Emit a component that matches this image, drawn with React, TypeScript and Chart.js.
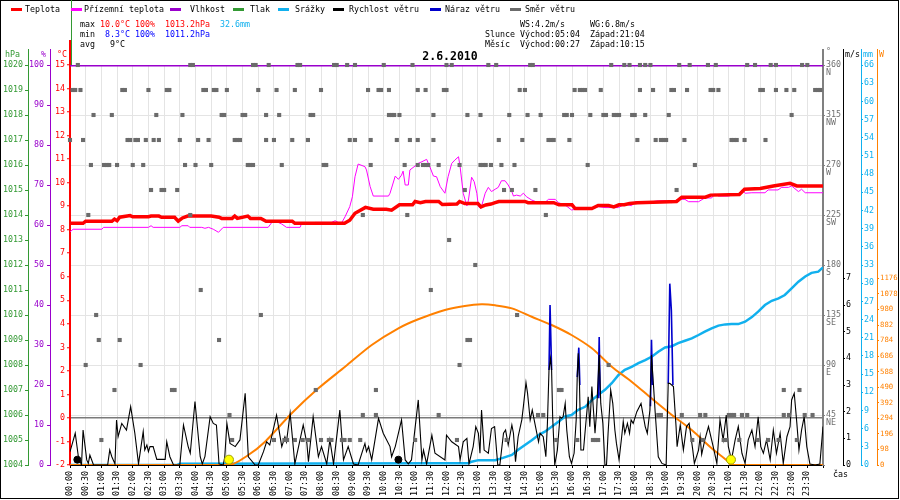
import React, { useEffect, useRef } from "react";
import { Chart, registerables } from "chart.js";

Chart.register(...registerables);

const FONT = "'DejaVu Sans Mono', 'Liberation Mono', monospace";
const FS = 8.3;

const COL = {
  temp: "#ff0000",
  ground: "#ff00ff",
  hum: "#9900cc",
  press: "#339933",
  rain: "#11b0ee",
  wind: "#000000",
  gust: "#0000cc",
  dir: "#6b6b6b",
  solar: "#ff8000",
  grid: "#e4e4e4",
};

// ---- data (time = minutes since midnight) ----
const tempTimes = [0,25,30,80,85,90,95,115,120,150,155,170,175,200,207,215,225,270,285,290,310,315,320,340,345,365,375,425,430,525,535,545,565,580,605,615,630,655,660,670,680,705,712,740,745,755,780,786,795,805,813,820,870,876,925,935,960,966,998,1010,1030,1040,1050,1060,1070,1085,1160,1170,1215,1225,1280,1290,1320,1345,1377,1390,1440];
const tempValues = [8.27,8.27,8.36,8.36,8.45,8.38,8.53,8.6,8.55,8.55,8.58,8.58,8.53,8.53,8.36,8.5,8.58,8.58,8.53,8.48,8.48,8.58,8.48,8.58,8.48,8.48,8.36,8.36,8.27,8.27,8.4,8.7,8.95,8.87,8.87,8.83,9.06,9.06,9.2,9.15,9.2,9.2,9.07,9.09,9.2,9.11,9.11,8.97,9.05,9.09,9.15,9.2,9.2,9.15,9.15,9.06,9.06,8.9,8.9,9.03,9.03,8.97,9.06,9.06,9.11,9.15,9.2,9.38,9.38,9.47,9.5,9.72,9.75,9.86,9.97,9.86,9.86];

const groundTimes = [0,6,61,64,150,155,159,210,214,226,229,252,258,265,274,284,293,379,386,398,405,414,440,443,462,469,500,507,513,520,526,535,540,545,551,564,567,574,580,609,612,622,628,634,637,641,647,650,660,666,673,682,688,695,701,708,717,723,730,736,743,746,752,759,762,768,773,778,781,786,794,800,806,813,819,825,832,838,845,848,854,861,867,873,883,896,908,915,928,934,947,959,972,998,1010,1023,1049,1061,1074,1081,1113,1125,1138,1150,1163,1176,1183,1202,1214,1227,1233,1240,1259,1272,1278,1285,1291,1304,1329,1335,1354,1361,1374,1380,1393,1399,1406,1440];
const groundValues = [7.91,8.02,8.02,8.10,8.10,8.17,8.10,8.10,8.17,8.17,8.10,8.10,8.06,8.10,8.02,7.89,8.10,8.10,8.31,8.31,8.24,8.10,8.10,8.27,8.27,8.31,8.31,8.38,8.31,8.31,8.55,8.98,9.40,10.25,10.79,10.68,10.54,9.83,9.43,9.43,9.55,10.28,10.14,10.32,10.49,9.90,9.90,10.54,10.71,10.82,10.89,10.99,10.68,10.28,10.25,9.83,9.55,10.25,10.82,10.96,11.1,10.68,9.55,9.01,9.26,10.23,10.04,9.55,8.98,8.91,9.55,9.8,9.62,9.72,9.8,10.08,10.08,9.9,9.62,9.43,9.47,9.43,9.55,9.4,9.26,9.15,9.15,9.29,9.29,9.15,9.05,8.84,8.88,8.88,8.98,8.94,8.94,9.09,9.02,9.19,9.19,9.23,9.23,9.15,9.29,9.29,9.19,9.19,9.35,9.35,9.52,9.43,9.43,9.5,9.5,9.69,9.55,9.57,9.57,9.69,9.69,9.8,9.8,9.86,9.62,9.72,9.57,9.57];

const humTimes = [0, 1440];
const humValues = [100, 100];

const rainTimes = [0,205,210,717,762,768,781,813,825,845,857,870,883,896,908,921,934,947,959,972,985,998,1010,1023,1036,1049,1061,1074,1087,1100,1113,1125,1138,1151,1163,1176,1189,1202,1214,1227,1240,1253,1265,1278,1291,1304,1316,1329,1342,1355,1367,1380,1393,1406,1418,1431,1440];
const rainValues = [0,0,0.2,0.28,0.28,0.55,0.8,0.8,1.1,1.65,2.5,3.3,4.1,4.95,5.5,6.3,7.15,8.0,8.25,9.1,9.6,10.7,11.55,12.4,13.5,14.85,15.7,16.2,16.8,17.3,17.9,18.7,19.4,19.6,20.1,20.5,20.9,21.45,22.0,22.55,23.0,23.2,23.25,23.25,23.65,24.4,25.3,26.4,27.1,27.5,28.05,29.15,30.25,31.1,31.7,31.9,32.6];

const solarTimes = [0,304,341,373,424,475,526,577,628,666,717,755,787,813,845,883,921,959,998,1036,1074,1112,1151,1189,1227,1259,1264,1440];
const solarValues = [0,0,63,147,326,483,619,756,861,918,977,1002,1012,1006,987,934,882,819,735,619,525,420,315,220,105,21,0,0];

const windTimes = [0,10,16,22,25,32,35,38,45,72,76,80,86,89,92,99,108,116,124,131,140,143,147,150,153,159,166,182,185,191,198,210,217,226,230,239,249,253,258,268,274,280,285,293,296,300,306,316,325,335,341,354,360,370,376,382,395,405,411,414,421,430,446,453,456,465,475,481,491,497,504,516,523,532,542,551,564,567,571,577,590,599,612,615,622,634,641,647,653,666,673,676,682,692,698,717,
  720,730,743,746,752,759,763,771,776,781,784,787,792,800,806,812,818,822,829,833,838,845,848,852,857,864,867,872,875,880,884,889,896,
  899,905,910,913,916,919,921,923,927,932,937,940,943,947,950,955,959,964,968,970,972,974,977,982,987,991,994,998,1001,1004,1007,1012,1015,1019,1023,1026,1029,1034,1038,1042,1045,1050,1055,1058,1061,1066,1070,1073,1077,1084,1092,1100,1104,1109,1112,1116,1119,1125,1132,1140,1144,1147,1154,1159,1161,1167,1173,1179,1184,1191,1194,1202,1205,1208,1214,1221,
  1230,1237,1243,1249,1255,1259,1265,1272,1278,1285,1291,1297,1304,1310,1316,1321,1326,1332,1339,1345,1351,1358,1364,1371,1377,1380,1385,1390,1394,1399,1404,1409,1415,1425,1434,1440];
const windSpeeds = [0.5,1.19,0.31,0,1.31,0.19,0.06,0.37,0,0,0.56,0.31,0.04,1.69,1.06,1.56,1.31,2.19,1.19,0.04,1.25,0.56,0.75,0.5,0.69,0.69,0.21,0.21,0.87,0.31,0,0,1.5,0.69,0.44,2.38,0.31,0.04,0.31,1.81,1.56,1.5,0.04,0,0.31,1.56,0.81,0.69,0.94,2.69,0.31,0,0,0.5,0.87,0.75,1.87,0.69,1.06,0.87,1.94,0.04,1.5,0.81,0.12,1.81,0.31,0.69,0.04,0.94,0.04,2.06,0.19,0.69,0.04,0,0.81,0.5,0.69,0.19,1.75,1.19,0.69,0.31,0.69,1.69,0.19,0.04,0.19,2.44,0.19,0.56,0.04,1.12,0.44,0.19,
  1.12,0.87,0.69,0.19,0.87,1.0,0.04,0.69,1.44,1.19,0.44,2.06,0.56,0.44,1.37,1.44,0,0,1.19,1.31,0.75,1.5,1.19,0.12,1.06,1.69,2.19,3.09,2.69,1.69,2.06,1.56,0.87,
  1.19,1.06,0.31,1.56,3.56,4.0,3.56,1.81,0,0.56,1.81,1.75,1.81,2.31,1.31,0.31,0.06,0.44,1.69,3.31,4.19,3.31,0.56,0.56,1.69,2.56,1.44,2.94,2.06,1.19,2.0,4.12,2.31,1.56,0,0,1.19,2.81,2.31,1.31,0.81,0.19,1.06,1.63,1.19,1.56,1.19,1.69,1.56,2.0,2.31,1.44,1.19,2.06,4.12,2.94,2.0,0.31,0.06,0,3.06,3.06,2.94,1.44,0.69,1.5,0.56,1.44,1.56,0.56,0.06,0.56,1.06,0.4,0.94,1.44,
  0.69,0.06,1.69,0.94,1.87,0.69,0.19,0.94,1.44,0.44,0.06,0.94,1.31,0.69,1.81,0.69,0.44,0.94,0.19,1.31,0.44,1.19,0.06,1.06,1.44,2.44,2.69,1.56,0.56,1.31,1.81,0.69,0.04,0,0.04,1.44];

const gustTimes = [916,918,921,945,970,973,975,990,1010,1012,1014,1060,1110,1112,1114,1130,1144,1147,1150,1153];
const gustValues = [3.56,6.0,3.56,null,3.3,4.4,3.0,null,2.5,4.8,2.5,null,2.2,4.7,3.0,null,3.06,6.8,5.8,3.0];

// wind direction observations, grouped by 16-point sector
const dir360 = [15,230,235,350,355,380,435,440,505,510,530,545,600,655,720,730,800,815,880,885,1035,1060,1070,1090,1100,1110,1165,1185,1220,1235,1295,1310,1340,1350,1400,1410];
const dir337 = [5,10,20,100,105,150,185,190,255,260,275,280,300,360,395,430,480,570,590,595,610,665,680,715,720,860,870,965,975,980,985,1015,1090,1115,1150,1155,1180,1225,1230,1240,1320,1325,1350,1370,1385,1425,1430,1435];
const dir315 = [45,80,165,215,290,295,330,335,375,400,460,465,610,615,620,630,695,760,785,840,875,900,945,950,960,995,1020,1025,1040,1045,1050,1075,1080,1100,1145,1380];
const dir292 = [0,25,110,115,125,130,145,160,170,210,245,265,315,320,325,375,390,425,455,535,545,575,625,650,665,695,820,865,915,920,925,955,1085,1120,1130,1135,1140,1175,1265,1270,1275,1290,1330];
const dir270 = [40,65,70,75,90,120,140,220,240,270,340,345,350,405,485,490,575,640,665,675,680,685,705,745,785,790,795,805,825,850,990,1195];
const dir247 = [155,175,180,205,755,830,845,890,1160];
const dir225 = [35,230,560,645,910];
const dir202 = [725];
const dir180 = [775];
const dir157 = [250,690];
const dir135 = [50,365,855];
const dir112 = [55,95,285,760,765];
const dir90 = [30,135,745,1030];
const dir67 = [85,195,200,470,585,935,940,1365,1395];
const dir45 = [305,560,585,705,895,905,1125,1130,1170,1205,1215,1260,1265,1270,1285,1295,1365,1375,1405,1420];
const dir22 = [60,310,390,410,415,430,445,455,480,495,500,520,525,535,555,660,740,835,930,970,1000,1005,1010,1190,1210,1250,1255,1280,1315,1335,1355,1390];
const directionRows: [number, number[]][] = [
  [360, dir360], [337.5, dir337], [315, dir315], [292.5, dir292], [270, dir270],
  [247.5, dir247], [225, dir225], [202.5, dir202], [180, dir180], [157.5, dir157],
  [135, dir135], [112.5, dir112], [90, dir90], [67.5, dir67], [45, dir45], [22.5, dir22],
];

const sunTimes = [304, 1264];
const moonTimes = [14, 628];
const markerLevel = 0.2; // m/s

const dirNames: Record<number, string> = { 45: "NE", 90: "E", 135: "SE", 180: "S", 225: "SW", 270: "W", 315: "NW", 360: "N" };
const windTickMax = 7;
const solarTickMax = 1176;

const legendItems: [string, string, number, number][] = [
  [COL.temp, "Teplota", 11, 25],
  [COL.ground, "Přízemní teplota", 71, 84],
  [COL.hum, "Vlhkost", 170, 190],
  [COL.press, "Tlak", 233, 250],
  [COL.rain, "Srážky", 278, 295],
  [COL.wind, "Rychlost větru", 333, 349],
  [COL.gust, "Náraz větru", 430, 445],
  [COL.dir, "Směr větru", 510, 525],
];

const statTexts: [string, string, number, number][] = [
  ["max", "#000", 80, 24.5], ["10.0°C", "#ff0000", 100, 24.5], ["100%", "#ff0000", 135, 24.5], ["1013.2hPa", "#ff0000", 165, 24.5], ["32.6mm", COL.rain, 220, 24.5],
  ["min", "#000", 80, 34.5], ["8.3°C", "#0000ff", 105, 34.5], ["100%", "#0000ff", 135, 34.5], ["1011.2hPa", "#0000ff", 165, 34.5],
  ["avg", "#000", 80, 44.5], ["9°C", "#000", 110, 44.5],
  ["WS:4.2m/s", "#000", 520, 24.5], ["WG:6.8m/s", "#000", 590, 24.5],
  ["Slunce Východ:05:04  Západ:21:04", "#000", 485, 34.5],
  ["Měsíc  Východ:00:27  Západ:10:15", "#000", 485, 44.5],
  ["hPa", COL.press, 5, 54.5], ["%", COL.hum, 41, 54.5], ["°C", COL.temp, 57, 54.5],
  ["°", COL.dir, 826, 52], ["m/s", "#000", 845, 54.5], ["mm", COL.rain, 863, 54.5], ["W", COL.solar, 879, 54.5],
  ["čas", "#000", 833, 475],
];

function pts(times: number[], vals: (number | null)[]) {
  const n = Math.min(times.length, vals.length);
  const out: { x: number; y: number | null }[] = [];
  for (let i = 0; i < n; i++) out.push({ x: times[i], y: vals[i] });
  return out;
}

const pad2 = (n: number) => (n < 10 ? "0" + n : "" + n);
const plain = (v: any) => String(Math.round(Number(v) * 100) / 100);
const tickFont = { family: FONT, size: FS, lineHeight: 1 };
const smallFont = { family: FONT, size: 7.3, lineHeight: 1 };
const align = (x: number, w: number) => Math.round(x - w / 2) + w / 2;

const decorPlugin = {
  id: "decor",
  afterDraw(chart: any) {
    const { ctx, chartArea, scales } = chart;
    ctx.save();
    // frame
    ctx.strokeStyle = "#000";
    ctx.lineWidth = 1;
    ctx.strokeRect(0.5, 0.5, 898, 498);

    // axis line extensions above plot
    const ext = (x: number, color: string, w: number, y0: number) => {
      ctx.strokeStyle = color;
      ctx.lineWidth = w;
      ctx.beginPath();
      ctx.moveTo(align(x, w), y0);
      ctx.lineTo(align(x, w), chartArea.top);
      ctx.stroke();
    };
    ext(chartArea.left + 1.5, COL.press, 1, 0);
    ext(scales.yP.right, COL.press, 1, 49);
    ext(scales.yH.right, COL.hum, 1, 49);
    ext(scales.yT.right, COL.temp, 2, 40);
    ext(scales.yD.left, "#808080", 2, 49);
    ext(scales.yW.left, "#000", 1, 49);
    ext(scales.yR.left, COL.rain, 1, 49);
    ext(scales.yS.left, COL.solar, 1, 49);

    ctx.font = `${FS}px ${FONT}`;
    ctx.textBaseline = "middle";
    ctx.textAlign = "left";
    for (const [color, label, lx, tx] of legendItems) {
      ctx.strokeStyle = color;
      ctx.lineWidth = 3;
      ctx.beginPath();
      ctx.moveTo(lx, 9.5);
      ctx.lineTo(lx + 11, 9.5);
      ctx.stroke();
      ctx.fillStyle = "#000";
      ctx.fillText(label, tx, 9.5);
    }
    for (const [text, color, x, y] of statTexts) {
      ctx.fillStyle = color;
      ctx.fillText(text, x, y);
    }
    ctx.font = `bold 11.5px ${FONT}`;
    ctx.textAlign = "center";
    ctx.fillStyle = "#000";
    ctx.fillText("2.6.2010", 450, 57.5);
    ctx.restore();
  },
};

export default function App() {
  const ref = useRef<HTMLCanvasElement | null>(null);

  useEffect(() => {
    document.body.style.margin = "0";
    const canvas = ref.current;
    if (!canvas) return;

    const dirPoints = directionRows.flatMap(([deg, times]) => times.map((t) => ({ x: t, y: deg })));

    const lineDs = (label: string, data: any, axis: string, color: string, width: number, order: number, extra: any = {}) => ({
      label,
      data,
      yAxisID: axis,
      borderColor: color,
      backgroundColor: color,
      borderWidth: width,
      pointRadius: 0,
      tension: 0,
      fill: false,
      order,
      ...extra,
    });

    const chart = new Chart(canvas, {
      type: "line",
      data: {
        datasets: [
          {
            label: "Slunce",
            data: pts(sunTimes, sunTimes.map(() => markerLevel)),
            yAxisID: "yW",
            showLine: false,
            pointRadius: 4.5,
            pointBackgroundColor: "#ffff00",
            pointBorderColor: "#a0a000",
            pointBorderWidth: 1,
            order: 0,
            clip: false,
          } as any,
          {
            label: "Měsíc",
            data: pts(moonTimes, moonTimes.map(() => markerLevel)),
            yAxisID: "yW",
            showLine: false,
            pointRadius: 3.5,
            pointBackgroundColor: "#000",
            pointBorderColor: "#000",
            pointBorderWidth: 1,
            order: 1,
            clip: false,
          },
          {
            label: "Směr větru",
            data: dirPoints,
            yAxisID: "yD",
            showLine: false,
            pointStyle: "rect",
            pointRadius: 2.9,
            pointBackgroundColor: COL.dir,
            pointBorderWidth: 0,
            order: 2,
            clip: false,
          },
          lineDs("Vlhkost", pts(humTimes, humValues), "yH", COL.hum, 3, 3),
          lineDs("Teplota", pts(tempTimes, tempValues), "yT", COL.temp, 3.5, 4),
          lineDs("Přízemní teplota", pts(groundTimes, groundValues), "yT", COL.ground, 1, 5),
          lineDs("Rychlost větru", pts(windTimes, windSpeeds), "yW", COL.wind, 1.1, 6),
          lineDs("Náraz větru", pts(gustTimes, gustValues), "yW", COL.gust, 1.6, 7, { spanGaps: false }),
          lineDs("Sluneční záření", pts(solarTimes, solarValues), "yS", COL.solar, 2, 8, { tension: 0.3 }),
          lineDs("Srážky", pts(rainTimes, rainValues), "yR", COL.rain, 2.5, 9),
        ],
      },
      options: {
        responsive: false,
        animation: false,
        devicePixelRatio: 1,
        layout: { padding: { top: 65, bottom: 2, left: 0, right: 0 } },
        plugins: { legend: { display: false }, tooltip: { enabled: false }, title: { display: false } },
        events: [],
        scales: {
          x: {
            type: "linear",
            position: "bottom",
            min: 0,
            max: 1440,
            afterFit: (s: any) => { s.height = 33; },
            ticks: {
              stepSize: 30,
              autoSkip: false,
              maxTicksLimit: 100,
              maxRotation: 90,
              minRotation: 90,
              padding: 3,
              color: "#000",
              font: tickFont,
              callback: (v: any) => {
                const m = Math.round(Number(v));
                if (m >= 1440) return "";
                return pad2(Math.floor(m / 60)) + ":" + pad2(m % 60);
              },
            },
            grid: { color: COL.grid, tickColor: "#000", tickLength: 3, lineWidth: 1 },
            border: { color: "#000", width: 1 },
          },
          yP: {
            type: "linear",
            position: "left",
            weight: 3,
            min: 1004,
            max: 1020,
            afterFit: (s: any) => { s.width = 28; },
            ticks: { stepSize: 1, autoSkip: false, maxTicksLimit: 100, color: COL.press, font: tickFont, padding: 2, callback: plain },
            grid: { drawOnChartArea: false, color: COL.press, tickLength: 3 },
            border: { color: COL.press, width: 1 },
          },
          yH: {
            type: "linear",
            position: "left",
            weight: 2,
            min: 0,
            max: 100,
            afterFit: (s: any) => { s.width = 22; },
            ticks: { stepSize: 10, autoSkip: false, maxTicksLimit: 100, color: COL.hum, font: tickFont, padding: 3, callback: plain },
            grid: { drawOnChartArea: false, color: COL.hum, tickLength: 3 },
            border: { color: COL.hum, width: 1 },
          },
          yT: {
            type: "linear",
            position: "left",
            weight: 1,
            min: -2,
            max: 15,
            afterFit: (s: any) => { s.width = 20; },
            ticks: { stepSize: 1, autoSkip: false, maxTicksLimit: 100, color: COL.temp, font: tickFont, padding: 2, callback: plain },
            grid: {
              drawOnChartArea: true,
              color: (c: any) => (c.tick && c.tick.value === 0 ? "#7a7a7a" : "rgba(0,0,0,0)"),
              lineWidth: 1.5,
              tickColor: COL.temp,
              tickWidth: 1,
              tickLength: 3,
            },
            border: { color: COL.temp, width: 2 },
          },
          yD: {
            type: "linear",
            position: "right",
            weight: 1,
            min: 0,
            max: 360,
            afterFit: (s: any) => { s.width = 20; },
            ticks: {
              stepSize: 45,
              autoSkip: false,
              maxTicksLimit: 100,
              color: "#707070",
              font: tickFont,
              padding: 1,
              callback: (v: any) => (Number(v) === 0 ? "" : ["", String(v), dirNames[Number(v)] || ""]),
            },
            grid: { drawOnChartArea: true, color: COL.grid, tickColor: "#808080", tickLength: 2, lineWidth: 1 },
            border: { color: "#808080", width: 2 },
          },
          yW: {
            type: "linear",
            position: "right",
            weight: 2,
            min: 0,
            max: 15,
            afterFit: (s: any) => { s.width = 18; },
            afterBuildTicks: (s: any) => { s.ticks = s.ticks.filter((t: any) => t.value <= windTickMax + 1e-6); },
            ticks: { stepSize: 1, autoSkip: false, maxTicksLimit: 100, color: "#000", font: tickFont, padding: 1, callback: plain },
            grid: { drawOnChartArea: false, color: "#000", tickLength: 2 },
            border: { color: "#000", width: 1 },
          },
          yR: {
            type: "linear",
            position: "right",
            weight: 3,
            min: 0,
            max: 66,
            afterFit: (s: any) => { s.width = 16; },
            ticks: { stepSize: 3, autoSkip: false, maxTicksLimit: 100, color: COL.rain, font: tickFont, padding: 1, callback: plain },
            grid: { drawOnChartArea: false, color: COL.rain, tickLength: 2 },
            border: { color: COL.rain, width: 1 },
          },
          yS: {
            type: "linear",
            position: "right",
            weight: 4,
            min: 0,
            max: 2520,
            afterFit: (s: any) => { s.width = 23; },
            afterBuildTicks: (s: any) => { s.ticks = s.ticks.filter((t: any) => t.value <= solarTickMax + 1e-6); },
            ticks: { stepSize: 98, autoSkip: false, maxTicksLimit: 100, color: COL.solar, font: smallFont, padding: 1, callback: plain },
            grid: { drawOnChartArea: false, color: COL.solar, tickLength: 2 },
            border: { color: COL.solar, width: 1 },
          },
        } as any,
      },
      plugins: [decorPlugin],
    } as any);

    return () => chart.destroy();
  }, []);

  return (
    <div style={{ width: 900, height: 500, background: "#fff" }}>
      <canvas ref={ref} width={900} height={500} style={{ display: "block" }} />
    </div>
  );
}
